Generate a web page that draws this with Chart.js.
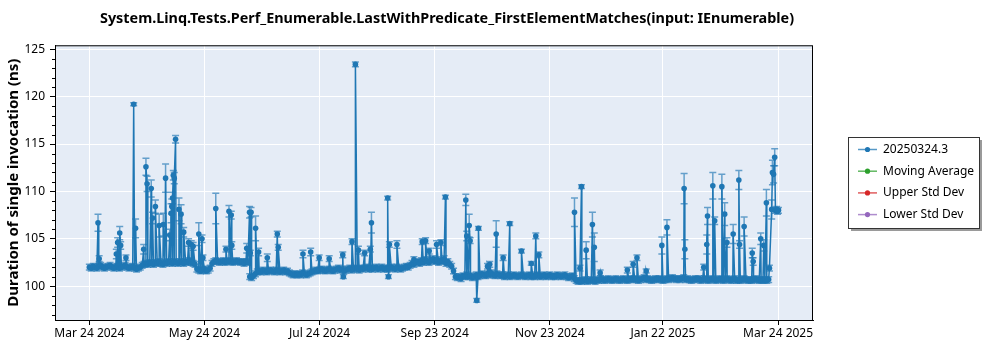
<!DOCTYPE html>
<html>
<head>
<meta charset="utf-8">
<script src="https://cdn.jsdelivr.net/npm/chart.js@4.4.1/dist/chart.umd.min.js"></script>
<style>
    html, body { margin: 0; padding: 0; background: #fff; }
</style>
</head>
<body>
<canvas id="chart" width="1000" height="350"></canvas>
<script>
// Day 0 = Mar 24 2024. Daily baseline readings (ns)
const baseDurations = [
    102.0, 101.9, 102.1, 102.0, 101.9, 102.1, 102.2, 102.0, 101.9, 102.0,
    102.1, 102.2, 102.0, 101.9, 102.0, 102.1, 101.9, 102.0, 102.1, 102.2,
    102.0, 101.9, 102.0, 102.1, 101.9, 101.8, 101.9, 102.0, 102.2, 102.3,
    102.4, 102.3, 102.5, 102.4, 102.3, 102.5, 102.4, 102.6, 102.4, 102.3,
    102.5, 102.4, 102.6, 102.5, 102.4, 102.6, 102.5, 102.4, 102.6, 102.5,
    102.4, 102.6, 102.5, 102.7, 102.5, 102.4, 102.3, 101.8, 101.7, 101.6,
    101.7, 101.8, 101.6, 101.7, 101.9, 102.4, 102.6, 102.7, 102.6, 102.5,
    102.6, 102.7, 102.5, 102.6, 102.7, 102.6, 102.5, 102.6, 102.7, 102.6,
    102.5, 102.6, 102.4, 102.6, 102.5, 101.0, 100.9, 101.1, 101.3, 101.5,
    101.6, 101.5, 101.7, 101.6, 101.5, 101.6, 101.7, 101.6, 101.5, 101.7,
    101.6, 101.5, 101.6, 101.7, 101.5, 101.6, 101.4, 101.3, 101.2, 101.3,
    101.2, 101.3, 101.2, 101.4, 101.3, 101.2, 101.3, 101.4, 101.5, 101.6,
    101.7, 101.6, 101.7, 101.8, 101.7, 101.6, 101.7, 101.8, 101.7, 101.6,
    101.7, 101.8, 101.9, 101.7, 101.8, 101.6, 101.7, 101.8, 101.9, 101.7,
    101.8, 101.9, 101.8, 101.7, 101.9, 101.8, 101.9, 102.0, 101.8, 101.9,
    101.8, 101.9, 102.0, 101.8, 101.9, 102.0, 101.8, 101.9, 101.8, 101.9,
    102.0, 101.9, 101.8, 102.0, 101.9, 101.8, 101.9, 102.0, 102.1, 102.0,
    102.2, 102.4, 102.3, 102.5, 102.6, 102.4, 102.7, 102.5, 102.8, 102.6,
    102.5, 102.7, 102.9, 102.6, 102.8, 102.5, 102.7, 102.6, 102.9, 102.4,
    102.6, 102.3, 102.1, 101.6, 101.0, 100.9, 101.0, 100.8, 101.1, 101.0,
    101.2, 101.0, 101.1, 100.9, 101.0, 101.2, 101.0, 101.1, 101.3, 101.2,
    101.1, 101.3, 101.2, 101.4, 101.2, 101.1, 101.3, 101.2, 101.1, 101.2,
    101.0, 101.1, 101.2, 101.0, 101.1, 101.2, 101.1, 101.0, 101.1, 101.2,
    101.1, 101.0, 101.1, 101.2, 101.0, 101.1, 101.0, 101.2, 101.1, 101.0,
    101.1, 101.2, 101.0, 101.1, 101.2, 101.0, 101.1, 101.0, 101.2, 101.1,
    101.0, 101.1, 101.2, 101.0, 100.9, 101.0, 101.1, 100.8, 100.6, 100.5,
    100.6, 100.5, 100.6, 100.7, 100.5, 100.6, 100.7, 100.6, 100.5, 100.7,
    100.6, 100.8, 100.7, 100.6, 100.7, 100.8, 100.7, 100.6, 100.7, 100.8,
    100.7, 100.6, 100.7, 100.8, 100.7, 100.6, 100.7, 100.8, 100.7, 100.8,
    100.7, 100.6, 100.7, 100.8, 100.9, 100.7, 100.8, 100.7, 100.6, 100.7,
    100.8, 100.7, 100.8, 100.7, 100.6, 100.7, 100.8, 100.7, 100.8, 100.9,
    100.8, 100.7, 100.8, 100.7, 100.8, 100.9, 100.7, 100.8, 100.7, 100.6,
    100.7, 100.8, 100.7, 100.8, 100.6, 100.7, 100.8, 100.7, 100.6, 100.7,
    100.8, 100.7, 100.6, 100.7, 100.8, 100.7, 100.6, 100.7, 100.8, 100.7,
    100.6, 100.7, 100.8, 100.6, 100.7, 100.6, 100.7, 100.8, 100.7, 100.6,
    100.7, 100.6, 100.7, 100.8, 100.7, 100.6, 100.7, 100.6, 100.7, 100.6,
    100.7
];

// Outlier runs (day offset, value, std dev)
const spikeDays = [
    4.6, 5.2, 14.3, 15.0, 16.1, 16.6, 19.4, 23.5, 24.5, 28.8,
    30.0, 30.6, 32.8, 33.5, 35.0, 37.0, 39.2, 40.4, 42.6, 43.3,
    43.7, 44.1, 44.5, 45.0, 45.7, 47.5, 48.6, 50.0, 52.6, 54.0,
    55.0, 58.0, 59.7, 60.2, 67.0, 72.4, 74.0, 75.2, 75.5, 83.4,
    84.9, 85.3, 85.7, 88.1, 89.7, 94.3, 99.6, 100.1, 113.2, 117.3,
    121.8, 127.1, 134.3, 134.6, 139.2, 141.0, 142.6, 145.9, 148.9, 149.5,
    158.1, 158.5, 159.0, 163.0, 172.0, 176.4, 178.2, 180.1, 184.0, 186.3,
    188.7, 199.5, 200.0, 201.3, 201.8, 205.3, 206.2, 211.0, 212.2, 215.6,
    219.3, 222.8, 229.0, 234.2, 236.6, 238.2, 257.1, 260.0, 260.8, 263.3,
    266.6, 267.6, 270.7, 285.1, 288.2, 290.2, 295.1, 303.4, 306.1, 315.2,
    315.6, 325.6, 327.2, 327.6, 330.4, 331.4, 335.2, 336.7, 337.9, 341.2,
    344.2, 344.6, 347.0, 351.3, 351.8, 355.8, 357.4, 358.8, 360.4, 361.6,
    362.0, 362.6, 363.2, 363.6, 364.2, 364.7, 365.2
];
const spikeValues = [
    106.7, 102.9, 103.4, 104.6, 105.6, 104.3, 103.0, 119.2, 106.1, 103.9,
    112.6, 110.8, 110.3, 107.2, 108.4, 106.4, 106.5, 111.4, 105.4, 107.7,
    108.4, 109.3, 111.7, 111.4, 115.5, 108.1, 107.6, 105.7, 104.6, 104.4,
    104.2, 105.5, 105.0, 103.0, 108.2, 103.9, 107.9, 107.5, 104.3, 104.0,
    107.8, 103.5, 107.8, 106.1, 103.6, 103.0, 105.5, 104.1, 103.4, 103.6,
    103.0, 102.9, 103.3, 101.0, 104.7, 123.4, 103.8, 103.5, 103.9, 106.7,
    109.3, 101.0, 104.4, 104.4, 102.8, 104.7, 104.8, 103.7, 104.4, 104.6,
    109.4, 109.1, 105.3, 106.4, 104.8, 98.5, 106.1, 102.1, 102.3, 105.5,
    103.0, 106.6, 103.7, 102.4, 105.3, 103.3, 107.8, 101.9, 110.5, 103.8,
    106.5, 104.1, 101.4, 101.7, 102.3, 103.0, 101.6, 104.3, 106.2, 110.3,
    103.9, 102.0, 104.4, 107.4, 110.6, 106.9, 110.5, 107.6, 104.6, 105.5,
    111.2, 104.4, 106.3, 103.5, 102.6, 105.0, 104.3, 108.8, 101.9, 108.1,
    112.0, 111.8, 113.6, 108.0, 108.1, 107.9, 108.0
];
const spikeErrors = [
    0.9, 0.3, 0.5, 0.5, 0.7, 0.4, 0.3, 0.15, 1.0, 0.5,
    0.9, 0.8, 0.9, 0.6, 0.7, 1.2, 1.2, 1.5, 0.6, 1.0,
    0.8, 0.6, 0.5, 0.6, 0.4, 1.2, 1.0, 0.5, 0.4, 0.4,
    0.4, 1.2, 0.4, 0.3, 1.6, 0.3, 0.6, 0.4, 0.4, 0.5,
    0.6, 0.3, 0.5, 1.3, 0.4, 0.4, 0.3, 0.3, 0.4, 0.4,
    0.3, 0.3, 0.3, 0.2, 0.3, 0.25, 0.4, 0.3, 0.3, 1.1,
    0.2, 0.2, 0.3, 0.4, 0.3, 0.3, 0.3, 0.3, 0.4, 0.3,
    0.2, 0.6, 0.5, 1.2, 0.3, 0.2, 0.2, 0.3, 0.3, 1.4,
    0.3, 0.2, 0.2, 0.2, 0.3, 0.3, 1.5, 0.3, 0.2, 0.9,
    1.3, 1.5, 0.3, 0.3, 0.3, 0.3, 0.2, 0.9, 0.8, 1.6,
    1.0, 0.3, 1.0, 0.9, 1.4, 0.4, 1.3, 1.2, 0.5, 1.0,
    1.0, 0.4, 1.0, 0.5, 0.4, 0.6, 0.6, 1.4, 0.3, 1.0,
    1.3, 0.9, 0.9, 0.3, 0.3, 0.3, 0.3
];
const baseErr = 0.3;

const xTickDays = [0, 61, 122, 183, 244, 304, 365];
const xTickLabels = ['Mar 24 2024', 'May 24 2024', 'Jul 24 2024', 'Sep 23 2024', 'Nov 23 2024', 'Jan 22 2025', 'Mar 24 2025'];
const yTicks = [100, 105, 110, 115, 120, 125];
const seriesNames = ['20250324.3', 'Moving Average', 'Upper Std Dev', 'Lower Std Dev'];
const seriesColors = ['#1f77b4', '#2ca02c', '#d62728', '#9467bd'];

// merge baseline and outliers into one time-ordered series
const points = baseDurations.map((v, i) => ({ x: i, y: v, err: baseErr }));
spikeDays.forEach((d, i) => {
    points.push({ x: d, y: spikeValues[i], err: spikeErrors[i] });
});
points.sort((a, b) => a.x - b.x);

const FONT = "'Noto Sans', 'DejaVu Sans', sans-serif";

// plot background
const plotBg = {
    id: 'plotBg',
    beforeDraw(chart) {
        const { ctx, chartArea: a } = chart;
        ctx.save();
        ctx.fillStyle = '#e5ecf6';
        ctx.fillRect(a.left, a.top, a.right - a.left, a.bottom - a.top);
        ctx.restore();
    }
};

// error bars with caps
const errorBars = {
    id: 'errorBars',
    beforeDatasetsDraw(chart) {
        const { ctx } = chart;
        const yScale = chart.scales.y;
        const meta = chart.getDatasetMeta(0);
        const data = chart.data.datasets[0].data;
        ctx.save();
        ctx.strokeStyle = 'rgba(31, 119, 180, 0.65)';
        ctx.lineWidth = 1.5;
        meta.data.forEach((pt, i) => {
            const d = data[i];
            const yTop = yScale.getPixelForValue(d.y + d.err);
            const yBot = yScale.getPixelForValue(d.y - d.err);
            ctx.beginPath();
            ctx.moveTo(pt.x, yTop);
            ctx.lineTo(pt.x, yBot);
            ctx.moveTo(pt.x - 3.5, yTop);
            ctx.lineTo(pt.x + 3.5, yTop);
            ctx.moveTo(pt.x - 3.5, yBot);
            ctx.lineTo(pt.x + 3.5, yBot);
            ctx.stroke();
        });
        ctx.restore();
    }
};

// frame around plot + minor ticks on y
const frame = {
    id: 'frame',
    afterDraw(chart) {
        const { ctx, chartArea: a } = chart;
        const yScale = chart.scales.y;
        ctx.save();
        ctx.strokeStyle = '#000';
        ctx.lineWidth = 1;
        ctx.strokeRect(a.left + 0.5, a.top + 0.5, a.right - a.left - 1, a.bottom - a.top);
        ctx.beginPath();
        for (let v = Math.ceil(yScale.min); v <= yScale.max; v++) {
            if (v % 5 === 0) continue;
            const y = Math.round(yScale.getPixelForValue(v)) + 0.5;
            ctx.moveTo(a.left - 3, y);
            ctx.lineTo(a.left, y);
        }
        ctx.stroke();
        ctx.restore();
    }
};

// boxed legend on the right
const boxedLegend = {
    id: 'boxedLegend',
    afterDraw(chart) {
        const { ctx } = chart;
        const bx = 848, by = 137, bw = 131, bh = 91;
        ctx.save();
        ctx.fillStyle = '#9a9a9a';
        ctx.fillRect(bx + 3, by + 3, bw, bh);
        ctx.fillStyle = '#fff';
        ctx.fillRect(bx, by, bw, bh);
        ctx.strokeStyle = '#333';
        ctx.lineWidth = 1;
        ctx.strokeRect(bx + 0.5, by + 0.5, bw, bh);
        ctx.font = '12px ' + FONT;
        ctx.textBaseline = 'middle';
        chart.data.datasets.forEach((ds, i) => {
            const y = by + 12.5 + i * 21.7;
            ctx.strokeStyle = ds.borderColor;
            ctx.globalAlpha = 0.75;
            ctx.lineWidth = 1.5;
            ctx.beginPath();
            ctx.moveTo(858, y);
            ctx.lineTo(877, y);
            ctx.stroke();
            ctx.globalAlpha = 1;
            ctx.fillStyle = ds.borderColor;
            ctx.beginPath();
            ctx.arc(867.5, y, 2.6, 0, Math.PI * 2);
            ctx.fill();
            ctx.fillStyle = '#000';
            ctx.fillText(ds.label, 883, y);
        });
        ctx.restore();
    }
};

const chart = new Chart(document.getElementById('chart'), {
    type: 'line',
    data: {
        datasets: [
            {
                label: seriesNames[0],
                data: points,
                borderColor: seriesColors[0],
                backgroundColor: seriesColors[0],
                borderWidth: 1.5,
                pointRadius: 2.8,
                pointBorderWidth: 0,
                pointHoverRadius: 2.8
            },
            { label: seriesNames[1], data: [], borderColor: seriesColors[1], backgroundColor: seriesColors[1] },
            { label: seriesNames[2], data: [], borderColor: seriesColors[2], backgroundColor: seriesColors[2] },
            { label: seriesNames[3], data: [], borderColor: seriesColors[3], backgroundColor: seriesColors[3] }
        ]
    },
    options: {
        responsive: false,
        animation: false,
        layout: { padding: { left: 0, right: 106, top: 0, bottom: 0 } },
        plugins: {
            legend: { display: false },
            tooltip: { enabled: false },
            title: {
                display: true,
                text: 'System.Linq.Tests.Perf_Enumerable.LastWithPredicate_FirstElementMatches(input: IEnumerable)',
                color: '#000',
                font: { family: FONT, size: 14.4, weight: 'bold' },
                padding: { top: 10, bottom: 18 }
            }
        },
        scales: {
            x: {
                type: 'linear',
                min: -18.2,
                max: 383.5,
                afterBuildTicks: axis => { axis.ticks = xTickDays.map(v => ({ value: v })); },
                afterFit: axis => { axis.height = 30; },
                ticks: {
                    callback: value => xTickLabels[xTickDays.indexOf(value)],
                    color: '#000',
                    font: { family: FONT, size: 12 },
                    padding: 1,
                    maxRotation: 0,
                    autoSkip: false
                },
                grid: { color: '#fff', tickColor: '#000', tickLength: 5, lineWidth: 1 },
                border: { color: '#000' }
            },
            y: {
                min: 96.43,
                max: 125.42,
                afterBuildTicks: axis => { axis.ticks = yTicks.map(v => ({ value: v })); },
                afterFit: axis => { axis.width = 55; },
                title: {
                    display: true,
                    text: 'Duration of single invocation (ns)',
                    color: '#000',
                    font: { family: FONT, size: 15, weight: 'bold' },
                    padding: { top: 5, bottom: 0 }
                },
                ticks: { color: '#000', font: { family: FONT, size: 12 }, padding: 5 },
                grid: { color: '#fff', tickColor: '#000', tickLength: 5, lineWidth: 1 },
                border: { color: '#000' }
            },
            y2: {
                position: 'right',
                display: true,
                grid: { display: false, drawTicks: false },
                ticks: { display: false },
                border: { display: false },
                afterFit: axis => { axis.width = 81; }
            }
        }
    },
    plugins: [plotBg, errorBars, frame, boxedLegend]
});
</script>
</body>
</html>
